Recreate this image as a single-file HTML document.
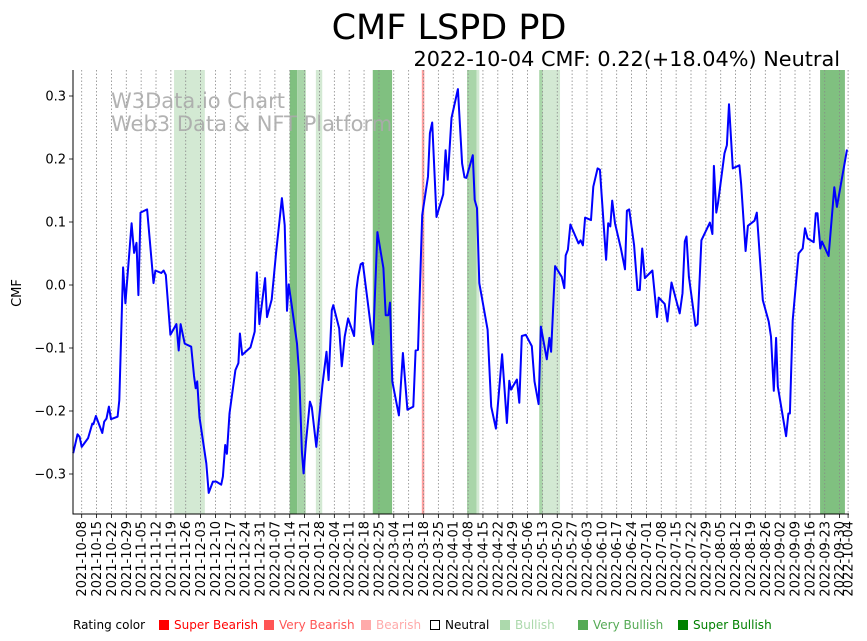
<!DOCTYPE html>
<html><head><meta charset="utf-8"><style>
body{margin:0;background:#fff;}
svg{display:block;font-family:"DejaVu Sans","Liberation Sans",sans-serif;}
</style></head><body>
<svg id="chart" width="867" height="641" viewBox="0 0 867 641" xmlns="http://www.w3.org/2000/svg">
<rect x="0" y="0" width="867" height="641" fill="#fff"/>
<text x="449" y="39" font-size="35" text-anchor="middle" fill="#000">CMF LSPD PD</text>
<text x="840" y="66" font-size="20.8" text-anchor="end" fill="#000">2022-10-04 CMF: 0.22(+18.04%) Neutral</text>
<g id="bands"></g>
<g id="grid"></g>
<text x="111" y="108" font-size="21" fill="#aaa" fill-opacity="0.9">W3Data.io Chart</text>
<text x="111" y="131" font-size="21" fill="#aaa" fill-opacity="0.9">Web3 Data &amp; NFT Platform</text>
<g id="series"></g>
<g id="axes"></g>
<text transform="translate(21,293) rotate(-90)" font-size="13" text-anchor="middle">CMF</text>
<g id="legend" font-size="12">
<text x="73" y="629" fill="#000">Rating color</text>
<rect x="159" y="620" width="10" height="10" fill="#ff0000"/><text x="174" y="629" fill="#ff0000">Super Bearish</text>
<rect x="264" y="620" width="10" height="10" fill="#ff5555"/><text x="279" y="629" fill="#ff5555">Very Bearish</text>
<rect x="361" y="620" width="10" height="10" fill="#ffaaaa"/><text x="376" y="629" fill="#ffaaaa">Bearish</text>
<rect x="430.5" y="620.5" width="9" height="9" fill="none" stroke="#000"/><text x="445" y="629" fill="#000">Neutral</text>
<rect x="500" y="620" width="10" height="10" fill="#acd9ac"/><text x="515" y="629" fill="#acd9ac">Bullish</text>
<rect x="578" y="620" width="10" height="10" fill="#55aa55"/><text x="593" y="629" fill="#55aa55">Very Bullish</text>
<rect x="678" y="620" width="10" height="10" fill="#008000"/><text x="693" y="629" fill="#008000">Super Bullish</text>
</g>
</svg>
<script>
const days = [-4,-2,-1,0,3,5,5.5,6.7,9.7,10.6,11.7,12.8,13.8,16.9,17.7,19.5,20.6,23.5,24.7,25.8,26.7,27.7,30.8,32.1,33.8,34.7,37.5,38.6,39.6,41.8,44.6,45.7,46.6,48.5,51.6,52.9,53.7,54.4,55.5,58.7,59.8,61.8,63.4,65.7,66.5,67.6,68.4,69.6,72.4,73.8,74.5,75.6,79.5,81.5,82.5,83.7,86.4,87.3,89.5,91.5,94.3,95.6,96.7,97.5,98.9,101.4,102.5,103.7,104.5,105.6,107.5,108.4,110.5,111.6,113.4,115.3,116.3,117.8,118.5,121.3,122.5,123.9,125.5,128.3,129.4,130.2,131.4,132.4,134.6,137.2,139.3,142.1,143.2,144.4,145.2,146.3,149.4,151.3,153.4,156.2,157.3,158.4,160.4,163.1,164.0,165.1,167.1,170.3,171.4,172.4,174.2,177.2,179.2,180.3,181.2,184.2,185.1,186.2,187.3,191.2,192.9,195.1,198.0,200.3,201.4,202.2,205.0,206.1,207.3,209.2,212.0,213.3,215.2,216.3,219.1,220.3,221.1,223.0,226.1,227.3,228.0,229.0,230.2,234.0,235.0,236.1,237.1,239.9,241.0,243.0,244.1,247.0,248.0,249.0,249.9,251.2,254.0,255.9,256.8,257.9,260.2,261.8,262.9,264.0,265.3,268.8,271.0,271.8,274.6,275.9,277.8,281.7,283.0,284.1,284.9,286.0,289.1,290.1,291.9,295.9,297.1,297.8,298.9,299.7,302.8,303.9,304.9,306.7,309.8,310.6,312.7,313.8,316.9,318.0,320.8,323.6,324.7,326.0,327.1,327.9,331.8,332.9,333.6,334.9,337.7,339.6,340.7,341.9,344.8,345.8,346.6,347.9,348.7,351.8,354.5,355.7,360.5];
const cmfValues = [-0.267,-0.237,-0.241,-0.257,-0.243,-0.220,-0.221,-0.208,-0.235,-0.217,-0.212,-0.193,-0.213,-0.209,-0.183,0.028,-0.029,0.098,0.051,0.067,-0.016,0.115,0.120,0.071,0.003,0.023,0.019,0.023,0.016,-0.079,-0.062,-0.104,-0.062,-0.093,-0.098,-0.144,-0.164,-0.153,-0.210,-0.283,-0.330,-0.312,-0.312,-0.317,-0.304,-0.254,-0.268,-0.204,-0.135,-0.124,-0.077,-0.111,-0.099,-0.074,0.020,-0.062,0.011,-0.051,-0.023,0.050,0.138,0.095,-0.041,0.001,-0.032,-0.093,-0.146,-0.265,-0.299,-0.251,-0.185,-0.194,-0.257,-0.220,-0.159,-0.106,-0.151,-0.040,-0.032,-0.069,-0.129,-0.082,-0.053,-0.081,-0.008,0.013,0.033,0.035,-0.024,-0.094,0.084,0.027,-0.048,-0.048,-0.028,-0.153,-0.207,-0.108,-0.198,-0.193,-0.104,-0.103,0.111,0.172,0.241,0.258,0.108,0.144,0.214,0.167,0.265,0.311,0.193,0.171,0.170,0.206,0.135,0.122,0.003,-0.071,-0.193,-0.228,-0.110,-0.219,-0.152,-0.166,-0.150,-0.187,-0.081,-0.079,-0.097,-0.153,-0.189,-0.066,-0.118,-0.084,-0.106,0.030,0.013,-0.005,0.047,0.056,0.096,0.066,0.071,0.063,0.107,0.103,0.156,0.185,0.183,0.040,0.098,0.093,0.134,0.098,0.058,0.025,0.118,0.120,0.063,-0.008,-0.008,0.058,0.011,0.023,-0.051,-0.020,-0.030,-0.058,0.004,-0.045,-0.013,0.069,0.077,0.013,-0.065,-0.062,0.071,0.099,0.081,0.189,0.115,0.130,0.209,0.222,0.287,0.185,0.190,0.161,0.054,0.094,0.102,0.115,-0.024,-0.058,-0.082,-0.168,-0.084,-0.161,-0.240,-0.204,-0.204,-0.056,0.050,0.058,0.090,0.074,0.068,0.114,0.114,0.058,0.069,0.046,0.155,0.124,0.215];
const yTicks = [-0.3,-0.2,-0.1,0.0,0.1,0.2,0.3];
const yTickLabels = ["−0.3","−0.2","−0.1","0.0","0.1","0.2","0.3"];
const bandStart = [43.5,98.0,101.5,110.3,137.1,181.5,186.0,215.5,217.2,347.8];
const bandEnd   = [58.0,101.5,105.5,113.3,146.2,186.0,187.3,217.2,225.3,359.5];
const bandRating = ["bullish","superbullish","verybullish","bullish","superbullish","verybullish","bullish","verybullish","bullish","superbullish"];
const bearStart = [160.2];
const bearEnd = [161.4];
const tickLabels = ["2021-10-08","2021-10-15","2021-10-22","2021-10-29","2021-11-05","2021-11-12","2021-11-19","2021-11-26","2021-12-03","2021-12-10","2021-12-17","2021-12-24","2021-12-31","2022-01-07","2022-01-14","2022-01-21","2022-01-28","2022-02-04","2022-02-11","2022-02-18","2022-02-25","2022-03-04","2022-03-11","2022-03-18","2022-03-25","2022-04-01","2022-04-08","2022-04-15","2022-04-22","2022-04-29","2022-05-06","2022-05-13","2022-05-20","2022-05-27","2022-06-03","2022-06-10","2022-06-17","2022-06-24","2022-07-01","2022-07-08","2022-07-15","2022-07-22","2022-07-29","2022-08-05","2022-08-12","2022-08-19","2022-08-26","2022-09-02","2022-09-09","2022-09-16","2022-09-23","2022-09-30","2022-10-04"];

const NS="http://www.w3.org/2000/svg";
const L=73,R=849,T=70,B=514;
const t0=new Date("2021-10-08T00:00:00Z").getTime();
const x=d=>81.7+d*2.123;
const y=v=>285-v*630;
const dayOf=s=>(new Date(s+"T00:00:00Z").getTime()-t0)/86400000;
function mk(tag,attrs,parent){const e=document.createElementNS(NS,tag);for(const k in attrs)e.setAttribute(k,attrs[k]);parent.appendChild(e);return e;}
const bandColors={bullish:"#d3e9d3",verybullish:"#a9d5a9",superbullish:"#80c080"};
const gB=document.getElementById("bands");
bandStart.forEach((s,i)=>{
  const r=mk("rect",{x:x(s),y:T,width:x(bandEnd[i])-x(s),height:B-T,fill:bandColors[bandRating[i]]},gB);
  
  
});
bearStart.forEach((s,i)=>{
  const r=mk("rect",{x:x(s),y:T,width:x(bearEnd[i])-x(s),height:B-T,fill:"#ff9f9f"},gB);
  
  
});
const gG=document.getElementById("grid");
const gA=document.getElementById("axes");
tickLabels.forEach(lbl=>{
  const xx=x(dayOf(lbl));
  const g=mk("line",{x1:xx,x2:xx,y1:T,y2:B,stroke:"#888","stroke-width":0.8,"stroke-dasharray":"1.5,2"},gG);
  
  
  mk("line",{x1:xx,x2:xx,y1:B,y2:B+4,stroke:"#000","stroke-width":0.8},gA);
  const t=mk("text",{transform:`translate(${xx+4.5},${B+7}) rotate(-90)`,"font-size":"13","text-anchor":"end",fill:"#000"},gA);
  t.textContent=lbl;
  
  
});
yTicks.forEach((v,i)=>{
  const yy=y(v);
  mk("line",{x1:L-4,x2:L,y1:yy,y2:yy,stroke:"#000","stroke-width":0.8},gA);
  const t=mk("text",{x:L-7,y:yy+4.5,"font-size":"13","text-anchor":"end",fill:"#000"},gA);
  t.textContent=yTickLabels[i];
  
  
});
const ax=mk("path",{d:`M${L},${T}V${B}H${R}`,fill:"none",stroke:"#000","stroke-width":1},gA);


const pts=days.map((d,i)=>x(d).toFixed(1)+","+y(cmfValues[i]).toFixed(1)).join(" ");
const line=mk("polyline",{points:pts,fill:"none",stroke:"#0000ff","stroke-width":2,"stroke-linejoin":"round"},document.getElementById("series"));


</script>
</body></html>
